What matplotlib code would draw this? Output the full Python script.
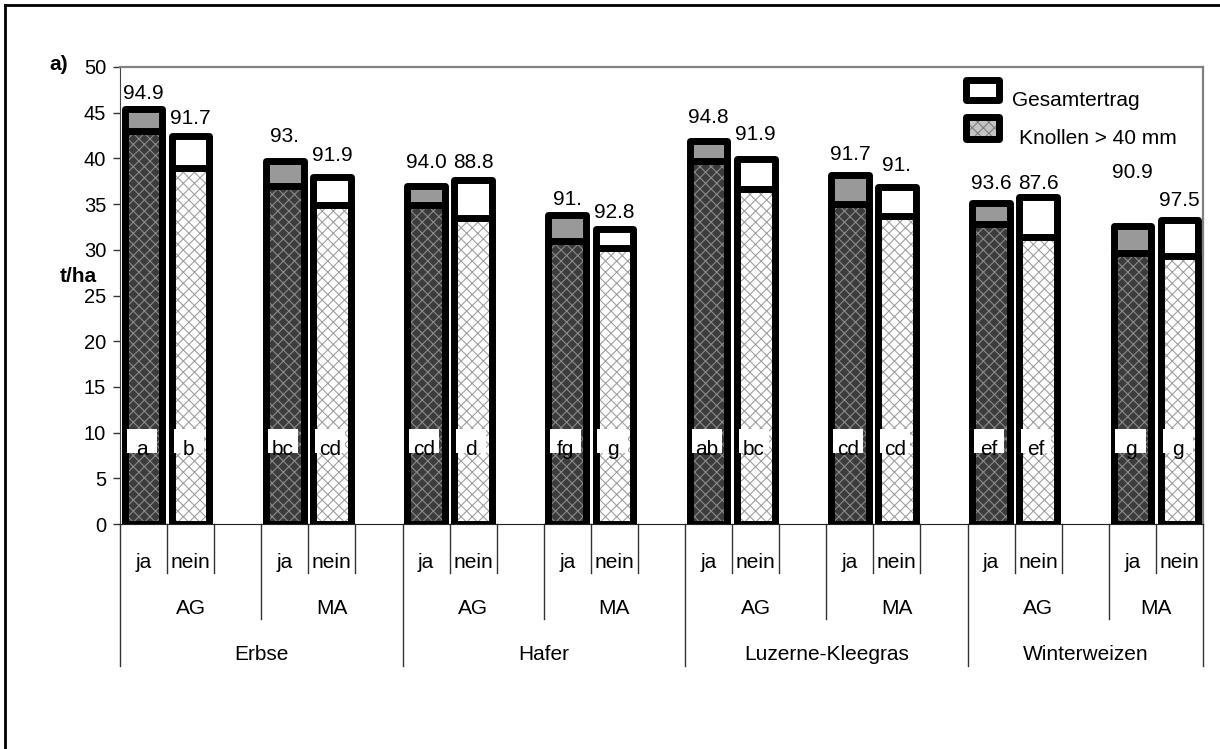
import matplotlib
matplotlib.use("Agg")
import matplotlib.pyplot as plt
from matplotlib.patches import Rectangle
from matplotlib.lines import Line2D

# Ertrag je Variante: Vorfrucht x System (AG/MA) x Untersaat (ja/nein)
crops = ["Erbse", "Hafer", "Luzerne-Kleegras", "Winterweizen"]
systems = ["AG", "MA"]
cover = ["ja", "nein"]
total = [45.4, 42.4, 39.7, 38.0, 37.0, 37.6, 33.8, 32.3,
         41.9, 39.9, 38.2, 36.9, 35.1, 35.8, 32.6, 33.3]
knollen = [43.0, 38.9, 37.0, 34.9, 34.9, 33.5, 31.0, 30.2,
           39.7, 36.7, 35.0, 33.7, 32.8, 31.4, 29.6, 29.3]
pct_labels = ["94.9", "91.7", "93.", "91.9", "94.0", "88.8", "91.", "92.8",
              "94.8", "91.9", "91.7", "91.", "93.6", "87.6", "90.9", "97.5"]
letters = ["a", "b", "bc", "cd", "cd", "d", "fg", "g",
           "ab", "bc", "cd", "cd", "ef", "ef", "g", "g"]
# gap between bar top and percentage label (t/ha)
label_gap = [1.75, 2.0, 2.7, 2.3, 2.6, 2.0, 1.7, 1.8,
             2.6, 2.7, 2.2, 2.3, 2.2, 1.5, 5.9, 2.1]

plt.rcParams['font.family'] = ['Liberation Sans', 'DejaVu Sans']
plt.rcParams['hatch.linewidth'] = 0.8
FS = 15

W, H = 1220, 749
L, R, T, B = 120, 1203, 67, 524   # plot area in pixels

fig = plt.figure(figsize=(W / 100, H / 100), dpi=100)
ax = fig.add_axes([L / W, 1 - B / H, (R - L) / W, (B - T) / H])


def fx(px):
    return px / W


def fy(py):
    return 1 - py / H


def axx(px):
    return (px - L) / (R - L)


def ayy(py):
    return (B - py) / (B - T)


n_slots = 23
ax.set_xlim(-0.5, n_slots - 0.5)
ax.set_ylim(0, 50)
ax.set_yticks(range(0, 51, 5))
ax.set_xticks([])
ax.tick_params(axis="y", direction="out", length=5, width=1, color="#333333",
               labelsize=14.5, pad=5)
for s in ("top", "right"):
    ax.spines[s].set_color("#808080")
    ax.spines[s].set_linewidth(1.6)
ax.spines["left"].set_color("#444444")
ax.spines["bottom"].set_color("#222222")

slots = []
for i in range(16):
    c, s, j = i // 4, (i // 2) % 2, i % 2
    slot = c * 6 + s * 3 + j
    slots.append(slot)
    ja = (j == 0)
    top_col = "#999999" if ja else "white"
    base_col = "#3c3c3c" if ja else "white"
    hatch_col = "#8a8a8a" if ja else "#a0a0a0"

    b = ax.bar(slot, total[i], width=0.8, color=top_col, edgecolor="black",
               linewidth=5, zorder=2)
    b[0].set_joinstyle("round")
    ax.bar(slot, knollen[i], width=0.8, color=base_col, edgecolor=hatch_col,
           linewidth=0, hatch="xxx", zorder=3)
    b = ax.bar(slot, knollen[i], width=0.8, fill=False, edgecolor="black",
               linewidth=5, zorder=4)
    b[0].set_joinstyle("round")

    # significance letters in white boxes (clipped like in the original)
    rect = Rectangle((slot - 0.36, 7.8), 0.64, 2.6, fc="white", ec="none",
                     zorder=5)
    ax.add_patch(rect)
    t = ax.text(slot - 0.04, 7.5, letters[i], ha="center", va="baseline",
                size=FS, zorder=6)
    t.set_clip_path(rect)

    ax.text(slot, total[i] + label_gap[i], pct_labels[i], ha="center",
            va="center", size=FS, zorder=6)

# multi-level category axis
xt = ax.get_xaxis_transform()
short_y, mid_y, long_y = 573, 619, 666
for k in range(n_slots + 1):
    if k % 6 == 0 or k == n_slots:
        end = long_y
    elif k % 3 == 0:
        end = mid_y
    else:
        end = short_y
    ax.plot([k - 0.5, k - 0.5], [0, ayy(end)], transform=xt, color="#333333",
            lw=1, clip_on=False)

for i, slot in enumerate(slots):
    ax.text(slot, ayy(563), cover[i % 2], transform=xt, ha="center",
            va="center", size=FS)
for c, crop in enumerate(crops):
    for s, sysname in enumerate(systems):
        first = c * 6 + s * 3
        last = min(first + 2, n_slots - 1)
        ax.text((first + last) / 2, ayy(608), sysname, transform=xt,
                ha="center", va="center", size=FS)
    first = c * 6
    last = min(first + 5, n_slots - 1)
    ax.text((first + last) / 2, ayy(655), crop, transform=xt, ha="center",
            va="center", size=FS)

# legend drawn by hand
lw_px = 7
x0, x1 = 962 + lw_px / 2, 1002 - lw_px / 2
leg = ax.add_patch(Rectangle((axx(x0), ayy(103 - lw_px / 2)), axx(x1) - axx(x0),
                             ayy(76 + lw_px / 2) - ayy(103 - lw_px / 2),
                             transform=ax.transAxes, fc="white", ec="black",
                             lw=5, clip_on=False, zorder=7))
leg.set_joinstyle("round")
ax.add_patch(Rectangle((axx(x0), ayy(142 - lw_px / 2)), axx(x1) - axx(x0),
                       ayy(113 + lw_px / 2) - ayy(142 - lw_px / 2),
                       transform=ax.transAxes, fc="#c4c4c4", ec="#808080",
                       lw=0, hatch="xxx", clip_on=False, zorder=7))
leg = ax.add_patch(Rectangle((axx(x0), ayy(142 - lw_px / 2)), axx(x1) - axx(x0),
                             ayy(113 + lw_px / 2) - ayy(142 - lw_px / 2),
                             transform=ax.transAxes, fill=False, ec="black",
                             lw=5, clip_on=False, zorder=8))
leg.set_joinstyle("round")
ax.text(axx(1012), ayy(100), "Gesamtertrag", transform=ax.transAxes,
        ha="left", va="center", size=FS)
ax.text(axx(1019), ayy(138), "Knollen > 40 mm", transform=ax.transAxes,
        ha="left", va="center", size=FS)

fig.text(fx(49), fy(64), "a)", ha="left", va="center", size=FS,
         weight="bold")
fig.text(fx(78), fy(277), "t/ha", ha="center", va="center", size=FS,
         weight="bold")

# outer chart frame (only left and top visible)
fig.add_artist(Line2D([fx(5), fx(5)], [fy(5), 0], color="black", lw=2))
fig.add_artist(Line2D([fx(5), 1], [fy(5), fy(5)], color="black", lw=2))

fig.savefig("out.png", dpi=100)
